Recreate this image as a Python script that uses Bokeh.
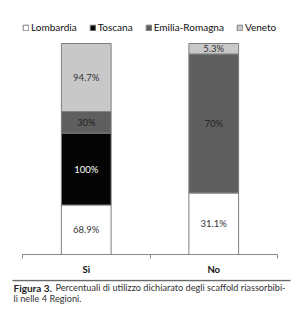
from bokeh.plotting import figure
from bokeh.layouts import column
from bokeh.models import ColumnDataSource, Legend, LegendItem, FixedTicker
from bokeh.core.properties import value
from bokeh.embed import file_html
from bokeh.resources import INLINE

categories = ["Sì", "No"]
regions = ["Lombardia", "Toscana", "Emilia-Romagna", "Veneto"]
lombardia = [68.9, 31.1]
toscana = [100.0, 0.0]
emilia = [30.0, 70.0]
veneto = [94.7, 5.3]
colors = ["#ffffff", "#050505", "#5f5f5f", "#c8c8c8"]
text_colors = ["#333333", "#ffffff", "#222222", "#333333"]
caption_bold = "Figura 3."
caption_lines = ["Percentuali di utilizzo dichiarato degli scaffold riassorbibi-",
                 "li nelle 4 Regioni."]

series = [lombardia, toscana, emilia, veneto]
totals = [sum(s[i] for s in series) for i in range(len(categories))]
xs = [i + 0.5 for i in range(len(categories))]

data = {"x": xs}
for name, s in zip(regions, series):
    data[name] = [v / t * 100 for v, t in zip(s, totals)]
src = ColumnDataSource(data)

FONT = "Lato"
# frame spans 14..254 px; bars (0..100 %) occupy the lower 211 px
p = figure(width=305, height=279, x_range=(0, 2), y_range=(0, 100 * 240 / 211),
           output_backend="svg", toolbar_location=None, y_axis_type=None,
           min_border_left=22, min_border_right=28, min_border_top=14, min_border_bottom=25)
p.frame_align = False
p.outline_line_color = None
p.background_fill_color = "white"
p.border_fill_color = "white"
p.grid.visible = False

rs = p.vbar_stack(regions, x="x", width=0.39, source=src, color=colors,
                  line_color="#7f7f7f", line_width=1)

# value labels
for k, (name, s) in enumerate(zip(regions, series)):
    lx, ly, lt = [], [], []
    for i in range(len(categories)):
        if s[i] <= 0:
            continue
        base = sum(data[regions[j]][i] for j in range(k))
        lx.append(xs[i]); ly.append(base + data[name][i] / 2)
        lt.append(f"{s[i]:g}%")
    ls = ColumnDataSource(dict(x=lx, y=ly, t=lt))
    p.text(x="x", y="y", text="t", source=ls, text_align="center", text_baseline="middle",
           text_font=value(FONT), text_font_size="9.5px", text_color=text_colors[k])

ax = p.xaxis[0]
ax.ticker = FixedTicker(ticks=xs, minor_ticks=[0, 1, 2])
ax.major_label_overrides = {x: c for x, c in zip(xs, categories)}
ax.major_tick_line_color = None
ax.minor_tick_out = 4
ax.minor_tick_in = 0
ax.minor_tick_line_color = "#8a8a8a"
ax.axis_line_color = "#8a8a8a"
ax.major_label_text_font = FONT
ax.major_label_text_font_style = "bold"
ax.major_label_text_font_size = "9.5px"
ax.major_label_text_color = "#111111"
ax.major_label_standoff = 3

items = [LegendItem(label=n, renderers=[r]) for n, r in zip(regions, rs)]
leg = Legend(items=items, orientation="horizontal", location=(0, 221),
             border_line_color=None, background_fill_alpha=0,
             glyph_width=7, glyph_height=7, label_standoff=2, spacing=12,
             padding=1, margin=0, label_text_font=FONT, label_text_font_size="10px",
             label_text_color="#111111", label_height=10)
p.add_layout(leg, "center")

# caption figure
c = figure(width=305, height=44, x_range=(0, 305), y_range=(44, 0),
           output_backend="svg", toolbar_location=None,
           x_axis_type=None, y_axis_type=None,
           min_border_left=0, min_border_right=0, min_border_top=0, min_border_bottom=0)
c.frame_align = False
c.grid.visible = False
c.outline_line_color = None
c.border_fill_color = "white"
c.background_fill_color = "white"
c.segment(x0=[12], y0=[1], x1=[290], y1=[1], line_color="#6a6a6a", line_width=1.5)
c.text(x=[13], y=[8], text=[caption_bold], text_font=value(FONT), text_font_style="bold",
       text_font_size="10px", text_color="#222222", text_baseline="middle")
c.text(x=[55, 13], y=[8, 19], text=caption_lines, text_font=value(FONT),
       text_font_size="9.2px", text_color="#333333", text_baseline="middle")

layout = column(p, c, spacing=0)
open("out.html", "w").write(file_html(layout, INLINE))
